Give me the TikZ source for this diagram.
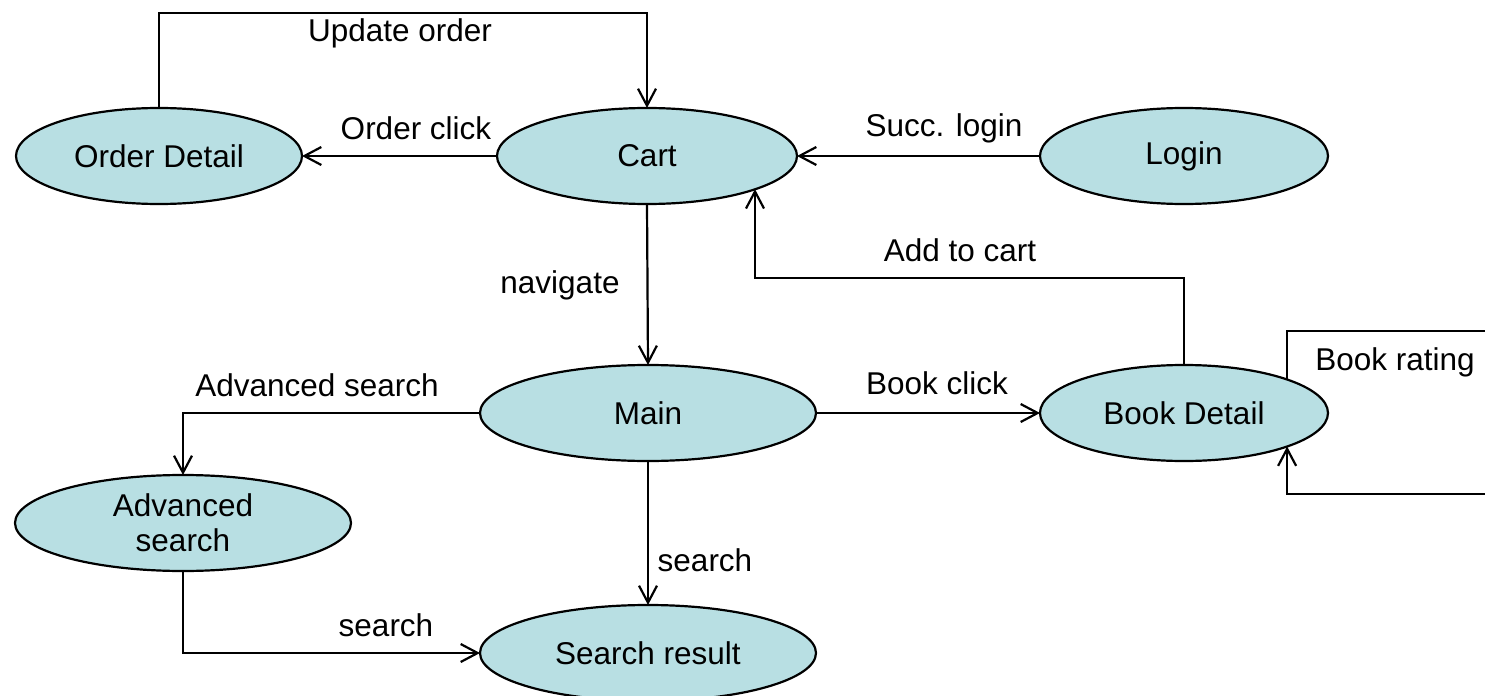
\documentclass[tikz,border=0pt]{standalone}
\usepackage{fontspec}
\setmainfont{Liberation Sans}
\usetikzlibrary{shapes.geometric,arrows.meta}
\definecolor{statefill}{RGB}{184,223,227}
\tikzset{
  state/.style={ellipse, draw=black, line width=1.1pt, fill=statefill,
    inner sep=0pt, outer sep=0pt, minimum height=48pt, font=\fontsize{15.75}{17.5}\selectfont, align=center},
  arr/.style={line width=1.1pt, -{Straight Barb[length=8.5pt,width=9pt,line width=1.1pt]}},
  lbl/.style={font=\fontsize{15.75}{17}\selectfont, inner sep=0pt}
}
\begin{document}
\begin{tikzpicture}[x=0.5pt,y=-0.5pt]
  \useasboundingbox (0,0) rectangle (1485,696);
  % states
  \node[state, minimum width=143pt] (od)    at (159,156) {Order Detail};
  \node[state, minimum width=150pt] (cart)  at (647,156) {Cart};
  \node[state, minimum width=144pt] (login) at (1184,156) {Login};
  \node[state, minimum width=168pt] (main)  at (648,413) {Main};
  \node[state, minimum width=144pt] (bd)    at (1184,413) {Book Detail};
  \node[state, minimum width=168pt] (adv)   at (183,523) {Advanced\\search};
  \node[state, minimum width=168pt] (sr)    at (648,653) {Search result};

  % helper points for routed connectors
  \coordinate (top)    at (0,13);
  \coordinate (addc)   at (755,278);
  \coordinate (rtop)   at (1495,331);
  \coordinate (rbot)   at (1495,494);

  % transitions
  \draw[arr] (od.north) -- (od.north |- top) -| (cart.north);
  \draw[arr] (cart.west) -- (od.east);
  \draw[arr] (login.west) -- (cart.east);
  \draw[arr] (cart.south) -- (main.north);
  \draw[arr] (bd.north) |- (addc) -- (addc |- cart.-17.1);
  \draw[arr] (main.east) -- (bd.west);
  \draw[arr] (main.west) -| (adv.north);
  \draw[arr] (main.south) -- (sr.north);
  \draw[arr] (adv.south) |- (sr.west);
  \draw[arr] (bd.18.4) -- (bd.18.4 |- rtop) -- (rtop) -- (rbot) -- (bd.-18.4 |- rbot) -- (bd.-18.4);

  % labels
  \node[lbl] (l1) at (400,33)  {Update order};
  \node[lbl] (l2) at (416,128) {Order click};
  \node[lbl] (l3) at (944,128) {Succ. login};
  \node[lbl] (l4) at (560,285) {navigate};
  \node[lbl] (l5) at (960,250) {Add to cart};
  \node[lbl] (l6) at (937,383) {Book click};
  \node[lbl] (l7) at (317,385) {Advanced search};
  \node[lbl] (l8) at (705,560) {search};
  \node[lbl] (l9) at (386,625) {search};
  \node[lbl, anchor=west] (l10) at (1315,362) {Book rating};
\end{tikzpicture}
\end{document}
